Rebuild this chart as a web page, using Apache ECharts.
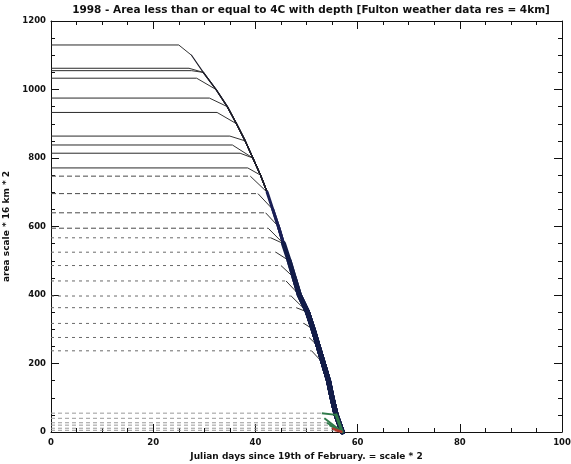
<!DOCTYPE html>
<html><head><meta charset="utf-8">
<script src="https://cdn.jsdelivr.net/npm/echarts@6/dist/echarts.min.js"></script>
<style>html,body{margin:0;padding:0;background:#fff}#c{width:571px;height:464px}</style>
</head><body><div id="c"></div>
<script>
// Starting area of each depth level (flat part of every curve)
const startLevels = [1130, 1062, 1055, 1033, 975, 933, 864, 838, 814, 771, 747, 696, 640, 595, 567, 525, 486, 441, 397, 363, 317, 276, 237, 55, 40, 27, 20, 11, 5];
// Day at which each curve leaves its flat level
const kneeDays = [25, 27, 27.5, 28.5, 31, 32.5, 35, 35.5, 37, 38.5, 39, 40.5, 42, 42.5, 43, 44, 45, 46, 47, 48, 49.5, 50.5, 51, 53, 53.5, 54, 54.5, 55, 55.5];
// Common melt-down path that all curves join
const meltDays = [27.5, 29.8, 32.3, 34.5, 36.3, 38, 39.5, 41, 42.3, 43.4, 44.5, 45.5, 46.6, 47.6, 48.6, 50.2, 51.3, 52.3, 53.3, 54.3, 55.0, 55.8, 57];
const meltArea = [1100, 1050, 1000, 950, 900, 850, 800, 750, 700, 650, 600, 550, 500, 450, 400, 350, 300, 250, 200, 150, 100, 50, 0];

const titleText = '1998 - Area less than or equal to 4C with depth [Fulton weather data res = 4km]';
const xName = 'Julian days since 19th of February. = scale * 2';
const yName = 'area scale * 16 km * 2';

function flatStyle(level) {
  if (level > 760) return { type: 'solid', color: '#2a2a2a', width: 1 };
  if (level > 580) return { type: [5, 3], color: '#4a4a4a', width: 1 };
  if (level > 200) return { type: [3, 4], color: '#6a6a6a', width: 1 };
  return { type: [4, 3], color: '#9a9a9a', width: 1 };
}
function bandStyle(level) {
  if (level > 760) return { color: '#1e1e2a', width: 1.2 };
  if (level > 580) return { color: '#1a1f55', width: 3 };
  if (level > 200) return { color: '#121c48', width: 5 };
  if (level > 15) return { color: '#2f7a4a', width: 3 };
  return { color: '#b0392c', width: 3 };
}

const series = [];
startLevels.forEach((lvl, i) => {
  const k = kneeDays[i];
  const b = bandStyle(lvl);
  const path = [];
  meltArea.forEach((a, j) => {
    if (a < lvl && meltDays[j] > k) path.push([meltDays[j], a]);
  });
  // flat level
  series.push({
    type: 'line', symbol: 'none', silent: true, z: 2,
    lineStyle: flatStyle(lvl),
    data: [[0, lvl], [k, lvl]]
  });
  // bend down to the shared path (the shallowest levels melt straight to zero)
  const low = lvl < 60;
  series.push({
    type: 'line', symbol: 'none', silent: true, z: low ? 5 : 3,
    lineStyle: { type: 'solid', color: low ? b.color : '#333', width: low ? 2 : 1 },
    data: [[k, lvl], path[0]]
  });
  // shared descent, overlapping into a dark band
  series.push({
    type: 'line', symbol: 'none', silent: true, z: 4,
    lineStyle: { type: 'solid', color: b.color, width: b.width, cap: 'round', join: 'round' },
    data: path
  });
});

const labelFont = { fontFamily: 'DejaVu Sans', fontWeight: 'bold', fontSize: 8.5, color: '#111' };
const nameFont = { fontFamily: 'DejaVu Sans', fontWeight: 'bold', fontSize: 9, color: '#111' };
const plain = v => String(v);

// major axis (ticks 8 px inward) and a companion axis carrying the short minor ticks
function makeAxis(pos, max, step, len, labelled, extra) {
  return Object.assign({
    type: 'value', min: 0, max, interval: step, position: pos, offset: 0,
    axisLine: { show: len === 8, onZero: false, lineStyle: { color: '#111', width: 1 } },
    splitLine: { show: false },
    axisTick: { show: true, inside: true, length: len, lineStyle: { color: '#111', width: 1 } },
    axisLabel: labelled ? Object.assign({ margin: 6, formatter: plain }, labelFont) : { show: false }
  }, extra || {});
}

const xAxes = [
  makeAxis('bottom', 100, 20, 8, true, { name: xName, nameLocation: 'middle', nameGap: 19, nameTextStyle: nameFont }),
  makeAxis('top', 100, 20, 8, false),
  makeAxis('bottom', 100, 5, 4, false),
  makeAxis('top', 100, 5, 4, false)
];
const yAxes = [
  makeAxis('left', 1200, 200, 8, true, { name: yName, nameLocation: 'middle', nameGap: 35, nameRotate: 90, nameTextStyle: nameFont }),
  makeAxis('right', 1200, 200, 8, false),
  makeAxis('left', 1200, 50, 4, false),
  makeAxis('right', 1200, 50, 4, false)
];
yAxes[0].axisLabel.margin = 5;

const chart = echarts.init(document.getElementById('c'), null, { renderer: 'canvas' });
chart.setOption({
  animation: false,
  backgroundColor: '#fff',
  title: {
    text: titleText, left: 306, top: 0, textAlign: 'center',
    textStyle: { fontFamily: 'DejaVu Sans', fontWeight: 'bold', fontSize: 10.5, color: '#111' }
  },
  grid: { left: 51, right: 9, top: 21, bottom: 32, containLabel: false, outerBoundsMode: 'none' },
  xAxis: xAxes,
  yAxis: yAxes,
  series
});
</script>
</body></html>
